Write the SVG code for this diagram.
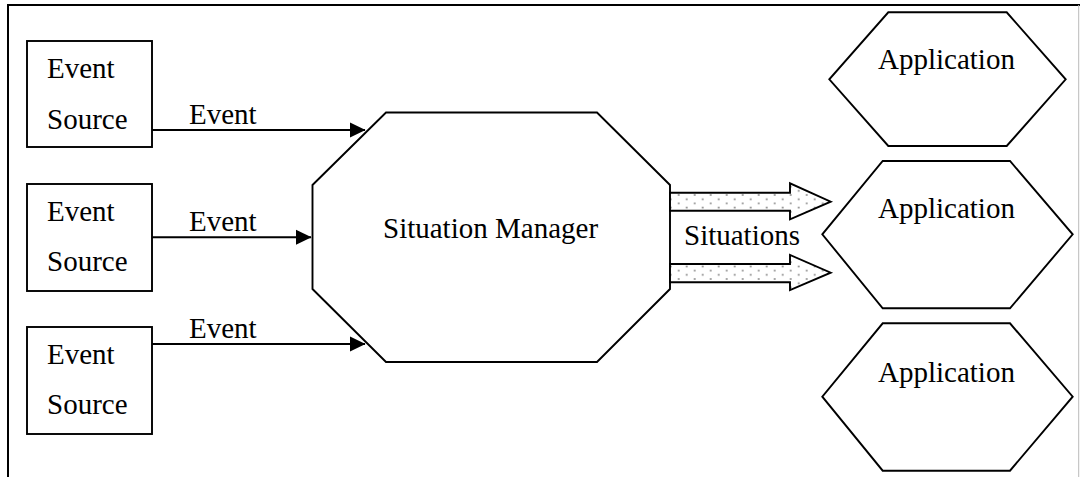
<svg xmlns="http://www.w3.org/2000/svg" width="1080" height="477" viewBox="0 0 1080 477">
<style>
text{font-family:"Liberation Serif","Times New Roman",serif;font-size:29px;fill:#000}
.sh{fill:#fff;stroke:#000;stroke-width:1.9}
.ln{fill:none;stroke:#000;stroke-width:1.9}
.big{fill:url(#dots);stroke:#000;stroke-width:1.9;stroke-linejoin:miter}
</style>
<defs>
<marker id="ah" markerUnits="userSpaceOnUse" markerWidth="16" markerHeight="16" viewBox="0 0 16 16" refX="15" refY="8" orient="auto">
<path d="M0,0.5 L15.5,8 L0,15.5 Z" fill="#000"/>
</marker>
<pattern id="dots" patternUnits="userSpaceOnUse" x="678.7" y="195" width="16" height="8.4">
<rect width="16" height="8.4" fill="#fff"/>
<circle cx="8" cy="4.3" r="1" fill="#888"/>
<circle cx="16" cy="8.4" r="1" fill="#888"/>
<circle cx="0" cy="8.4" r="1" fill="#888"/>
<circle cx="0" cy="0" r="1" fill="#888"/>
<circle cx="16" cy="0" r="1" fill="#888"/>
</pattern>
</defs>
<g id="frame">
<line x1="8" y1="5" x2="1080" y2="5" stroke="#000" stroke-width="2"/>
<line x1="8" y1="4" x2="8" y2="477" stroke="#000" stroke-width="2"/>
<line x1="1078.7" y1="5" x2="1078.7" y2="477" stroke="#bbb" stroke-width="1"/>
</g>
<g id="src1">
<rect class="sh" x="27" y="41" width="125" height="106"/>
<text x="47" y="78">Event</text>
<text x="47" y="129">Source</text>
</g>
<g id="src2">
<rect class="sh" x="27" y="184" width="125" height="107"/>
<text x="47" y="221">Event</text>
<text x="47" y="271">Source</text>
</g>
<g id="src3">
<rect class="sh" x="27" y="327" width="125" height="107"/>
<text x="47" y="364">Event</text>
<text x="47" y="414">Source</text>
</g>
<g id="manager">
<polygon class="sh" points="386,112.5 597,112.5 670,185 670,289 597,362 386,362 312.5,289 312.5,185"/>
<text x="383" y="238">Situation Manager</text>
</g>
<g id="app1">
<polygon class="sh" points="888.3,12.3 1006.7,12.3 1065.7,79.3 1006.7,146 888.3,146 829.3,79.3"/>
<text x="878" y="68.5">Application</text>
</g>
<g id="app2">
<polygon class="sh" points="882.7,161 1010,161 1072.7,234.3 1010,308.3 882.7,308.3 822.3,234.3"/>
<text x="878" y="218">Application</text>
</g>
<g id="app3">
<polygon class="sh" points="882.7,323.3 1010,323.3 1072.7,396.7 1010,470.7 882.7,470.7 822.3,396.7"/>
<text x="878" y="381.7">Application</text>
</g>
<g id="connectors">
<line class="ln" x1="152" y1="130" x2="365" y2="130" marker-end="url(#ah)"/>
<line class="ln" x1="152" y1="237.3" x2="311" y2="237.3" marker-end="url(#ah)"/>
<line class="ln" x1="152" y1="344" x2="365" y2="344" marker-end="url(#ah)"/>
<text x="189" y="124">Event</text>
<text x="189" y="230.7">Event</text>
<text x="189" y="338.3">Event</text>
<path class="big" d="M670,192.7 L790,192.7 L790,183.3 L830.7,201.7 L790,219.3 L790,210.7 L670,210.7 Z"/>
<path class="big" d="M670,264 L790,264 L790,255 L830.7,272.7 L790,290 L790,282.3 L670,282.3 Z"/>
<text x="684" y="245">Situations</text>
</g>
</svg>
